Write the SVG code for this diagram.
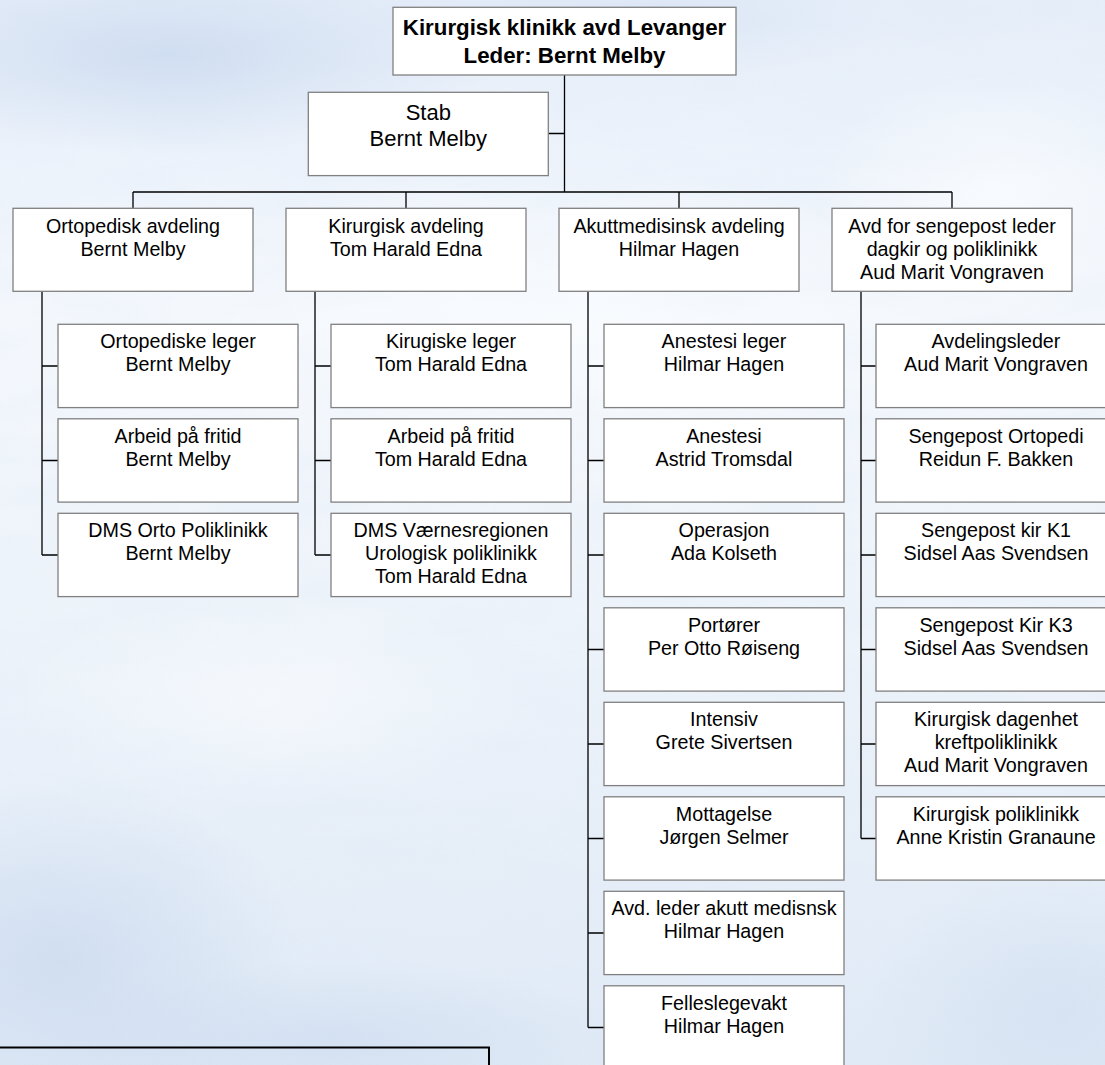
<svg xmlns="http://www.w3.org/2000/svg" width="1105" height="1065" viewBox="0 0 1105 1065">
<defs>
<linearGradient id="bgBase" x1="0" y1="0" x2="0" y2="1">
<stop offset="0" stop-color="#e6eef9"/>
<stop offset="0.3" stop-color="#f4f8fd"/>
<stop offset="0.6" stop-color="#edf3fa"/>
<stop offset="1" stop-color="#e0eaf6"/>
</linearGradient>
<radialGradient id="blueTL" cx="0.5" cy="0.5" r="0.5">
<stop offset="0" stop-color="#ccdbf0" stop-opacity="0.85"/>
<stop offset="1" stop-color="#ccdbf0" stop-opacity="0"/>
</radialGradient>
<radialGradient id="blueBL" cx="0.5" cy="0.5" r="0.5">
<stop offset="0" stop-color="#c4d5ed" stop-opacity="0.75"/>
<stop offset="1" stop-color="#c4d5ed" stop-opacity="0"/>
</radialGradient>
<radialGradient id="white" cx="0.5" cy="0.5" r="0.5">
<stop offset="0" stop-color="#fbfdff" stop-opacity="0.95"/>
<stop offset="1" stop-color="#fbfdff" stop-opacity="0"/>
</radialGradient>
<filter id="clouds" x="0" y="0" width="100%" height="100%">
<feTurbulence type="fractalNoise" baseFrequency="0.008 0.03" numOctaves="4" seed="7"/>
<feColorMatrix type="matrix" values="0 0 0 0 0.74  0 0 0 0 0.82  0 0 0 0 0.93  0 0 0 -1.6 1.05"/>
</filter>
<style>
.box{fill:#ffffff;stroke:#808080;stroke-width:1.3}
.t{font-family:"Liberation Sans",Arial,Helvetica,sans-serif;font-size:19.7px;text-anchor:middle;fill:#000}
.big{font-size:22px}
.b{font-weight:bold;font-size:22.3px}
.conn{fill:none;stroke:#000;stroke-width:1.3}
</style>
</defs>

<g id="background">
<rect x="0" y="0" width="1105" height="1065" fill="url(#bgBase)"/>
<rect x="0" y="0" width="1105" height="1065" filter="url(#clouds)" opacity="0.3"/>
<ellipse cx="170" cy="55" rx="330" ry="100" fill="url(#blueTL)"/>
<ellipse cx="640" cy="20" rx="260" ry="60" fill="url(#blueTL)" opacity="0.5"/>
<ellipse cx="60" cy="960" rx="240" ry="180" fill="url(#blueBL)" opacity="0.8"/>
<ellipse cx="330" cy="1040" rx="300" ry="80" fill="url(#blueBL)" opacity="0.6"/>
<ellipse cx="1060" cy="1010" rx="200" ry="150" fill="url(#blueBL)" opacity="0.5"/>
<ellipse cx="560" cy="330" rx="420" ry="170" fill="url(#white)" opacity="0.7"/>
<ellipse cx="1000" cy="200" rx="180" ry="130" fill="url(#white)" opacity="0.8"/>
<ellipse cx="270" cy="700" rx="260" ry="110" fill="url(#white)" opacity="0.6"/>
</g>

<g id="connectors" class="conn">
<path d="M564.5 75 V192 M548 133.5 H564.5 M133 192 H952 M133 192 V208.3 M406 192 V208.3 M679 192 V208.3 M952 192 V208.3"/>
<path d="M42 291.3 V555 M42 366 H58 M42 460.5 H58 M42 555 H58"/>
<path d="M315 291.3 V555 M315 366 H331 M315 460.5 H331 M315 555 H331"/>
<path d="M588 291.3 V1027.5 M588 366 H604 M588 460.5 H604 M588 555 H604 M588 649.5 H604 M588 744 H604 M588 838.5 H604 M588 933 H604 M588 1027.5 H604"/>
<path d="M861 291.3 V838.5 M861 366 H876 M861 460.5 H876 M861 555 H876 M861 649.5 H876 M861 744 H876 M861 838.5 H876"/>
</g>

<g id="frame">
<rect x="-3" y="1047.5" width="492" height="40" fill="none" stroke="#000" stroke-width="2"/>
</g>

<g id="n-top"><rect class="box" x="393" y="7.3" width="343" height="67.7"/>
<text class="t b" x="564.5" y="35">Kirurgisk klinikk avd Levanger</text>
<text class="t b" x="564.5" y="62.7">Leder: Bernt Melby</text></g>

<g id="n-stab"><rect class="box" x="308.3" y="92.3" width="240" height="83.3"/>
<text class="t big" x="428.3" y="120">Stab</text>
<text class="t big" x="428.3" y="146">Bernt Melby</text></g>

<g id="n-ortopedisk"><rect class="box" x="13" y="208.3" width="240" height="83"/>
<text class="t" x="133" y="233.3">Ortopedisk avdeling</text>
<text class="t" x="133" y="256">Bernt Melby</text></g>

<g id="n-kirurgisk"><rect class="box" x="286" y="208.3" width="240" height="83"/>
<text class="t" x="406" y="233.3">Kirurgisk avdeling</text>
<text class="t" x="406" y="256">Tom Harald Edna</text></g>

<g id="n-akutt"><rect class="box" x="559" y="208.3" width="240" height="83"/>
<text class="t" x="679" y="233.3">Akuttmedisinsk avdeling</text>
<text class="t" x="679" y="256">Hilmar Hagen</text></g>

<g id="n-sengepost"><rect class="box" x="832" y="208.3" width="240" height="83"/>
<text class="t" x="952" y="233.3">Avd for sengepost leder</text>
<text class="t" x="952" y="256">dagkir og poliklinikk</text>
<text class="t" x="952" y="279">Aud Marit Vongraven</text></g>

<g id="n-ort-1"><rect class="box" x="58" y="324.3" width="240" height="83.3"/>
<text class="t" x="178" y="348.3">Ortopediske leger</text><text class="t" x="178" y="371">Bernt Melby</text></g>
<g id="n-ort-2"><rect class="box" x="58" y="418.8" width="240" height="83.3"/>
<text class="t" x="178" y="442.8">Arbeid på fritid</text><text class="t" x="178" y="465.5">Bernt Melby</text></g>
<g id="n-ort-3"><rect class="box" x="58" y="513.3" width="240" height="83.3"/>
<text class="t" x="178" y="537.3">DMS Orto Poliklinikk</text><text class="t" x="178" y="560">Bernt Melby</text></g>

<g id="n-kir-1"><rect class="box" x="331" y="324.3" width="240" height="83.3"/>
<text class="t" x="451" y="348.3">Kirugiske leger</text><text class="t" x="451" y="371">Tom Harald Edna</text></g>
<g id="n-kir-2"><rect class="box" x="331" y="418.8" width="240" height="83.3"/>
<text class="t" x="451" y="442.8">Arbeid på fritid</text><text class="t" x="451" y="465.5">Tom Harald Edna</text></g>
<g id="n-kir-3"><rect class="box" x="331" y="513.3" width="240" height="83.3"/>
<text class="t" x="451" y="537.3">DMS Værnesregionen</text><text class="t" x="451" y="560.3">Urologisk poliklinikk</text><text class="t" x="451" y="583.3">Tom Harald Edna</text></g>

<g id="n-akutt-1"><rect class="box" x="604" y="324.3" width="240" height="83.3"/>
<text class="t" x="724" y="348.3">Anestesi leger</text><text class="t" x="724" y="371">Hilmar Hagen</text></g>
<g id="n-akutt-2"><rect class="box" x="604" y="418.8" width="240" height="83.3"/>
<text class="t" x="724" y="442.8">Anestesi</text><text class="t" x="724" y="465.5">Astrid Tromsdal</text></g>
<g id="n-akutt-3"><rect class="box" x="604" y="513.3" width="240" height="83.3"/>
<text class="t" x="724" y="537.3">Operasjon</text><text class="t" x="724" y="560">Ada Kolseth</text></g>
<g id="n-akutt-4"><rect class="box" x="604" y="607.8" width="240" height="83.3"/>
<text class="t" x="724" y="631.8">Portører</text><text class="t" x="724" y="654.5">Per Otto Røiseng</text></g>
<g id="n-akutt-5"><rect class="box" x="604" y="702.3" width="240" height="83.3"/>
<text class="t" x="724" y="726.3">Intensiv</text><text class="t" x="724" y="749">Grete Sivertsen</text></g>
<g id="n-akutt-6"><rect class="box" x="604" y="796.8" width="240" height="83.3"/>
<text class="t" x="724" y="820.8">Mottagelse</text><text class="t" x="724" y="843.5">Jørgen Selmer</text></g>
<g id="n-akutt-7"><rect class="box" x="604" y="891.3" width="240" height="83.3"/>
<text class="t" x="724" y="915.3">Avd. leder akutt medisnsk</text><text class="t" x="724" y="938">Hilmar Hagen</text></g>
<g id="n-akutt-8"><rect class="box" x="604" y="985.8" width="240" height="83.3"/>
<text class="t" x="724" y="1009.8">Felleslegevakt</text><text class="t" x="724" y="1032.5">Hilmar Hagen</text></g>

<g id="n-seng-1"><rect class="box" x="876" y="324.3" width="240" height="83.3"/>
<text class="t" x="996" y="348.3">Avdelingsleder</text><text class="t" x="996" y="371">Aud Marit Vongraven</text></g>
<g id="n-seng-2"><rect class="box" x="876" y="418.8" width="240" height="83.3"/>
<text class="t" x="996" y="442.8">Sengepost Ortopedi</text><text class="t" x="996" y="465.5">Reidun F. Bakken</text></g>
<g id="n-seng-3"><rect class="box" x="876" y="513.3" width="240" height="83.3"/>
<text class="t" x="996" y="537.3">Sengepost kir K1</text><text class="t" x="996" y="560">Sidsel Aas Svendsen</text></g>
<g id="n-seng-4"><rect class="box" x="876" y="607.8" width="240" height="83.3"/>
<text class="t" x="996" y="631.8">Sengepost Kir K3</text><text class="t" x="996" y="654.5">Sidsel Aas Svendsen</text></g>
<g id="n-seng-5"><rect class="box" x="876" y="702.3" width="240" height="83.3"/>
<text class="t" x="996" y="726.3">Kirurgisk dagenhet</text><text class="t" x="996" y="749.3">kreftpoliklinikk</text><text class="t" x="996" y="772.3">Aud Marit Vongraven</text></g>
<g id="n-seng-6"><rect class="box" x="876" y="796.8" width="240" height="83.3"/>
<text class="t" x="996" y="820.8">Kirurgisk poliklinikk</text><text class="t" x="996" y="843.5">Anne Kristin Granaune</text></g>
</svg>
